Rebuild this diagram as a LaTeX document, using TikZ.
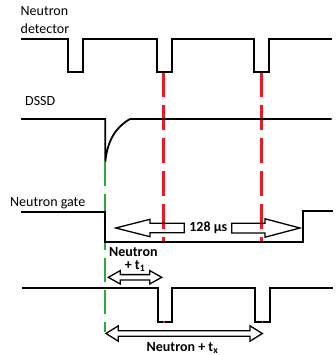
\documentclass[tikz,border=0pt]{standalone}
\usepackage{fontspec}
\setmainfont{Carlito}
\definecolor{mkred}{RGB}{235,25,35}
\definecolor{mkgreen}{RGB}{40,170,60}
\begin{document}
\begin{tikzpicture}[x=1pt,y=-1pt,
  sig/.style={line width=1.8pt, line join=miter},
  reddash/.style={draw=mkred, line width=2.3pt, dash pattern=on 25pt off 8pt},
  greendash/.style={draw=mkgreen, line width=1.5pt, dash pattern=on 24pt off 8pt},
  blockarrow/.style={draw=black, line width=1.3pt, line join=miter, fill=none},
  lbl/.style={inner sep=0pt, anchor=base west, font=\fontsize{14}{16}\selectfont},
  blbl/.style={inner sep=0pt, anchor=base, font=\fontsize{14}{16}\selectfont\bfseries}]
\useasboundingbox (0,0) rectangle (336,355);
\fill[white] (0,0) rectangle (336,355);

% labels
\node[lbl] (nd1) at (20.5,16) {Neutron};
\node[lbl] (nd2) at (20.5,33.3) {detector};
\node[lbl] (dssd) at (25,106) {DSSD};
\node[lbl] (ngate) at (10,206) {Neutron gate};

% dashed markers
\draw[reddash] (163.5,71.7) -- (163.5,241.7);
\draw[reddash] (261.5,71.7) -- (261.5,241.7);
\draw[greendash] (105,161.7) -- (105,332);

% neutron detector signal
\draw[sig] (21,39) -- (68.3,39) -- (68.3,71.7) -- (82.7,71.7) -- (82.7,39)
  -- (157,39) -- (157,71.7) -- (172,71.7) -- (172,39)
  -- (254.3,39) -- (254.3,71.7) -- (269.3,71.7) -- (269.3,39) -- (331.7,39);

% DSSD signal
\draw[sig] (21,119) -- (105.3,119) -- (105.3,161.7)
  .. controls (107.5,140) and (116,127) .. (130,119) -- (331.7,119);

% neutron gate signal
\draw[sig] (21,211.7) -- (104.7,211.7) -- (104.7,241.7) -- (303.3,241.7)
  -- (303.3,211.2) -- (333,211.2);

% lower signal
\draw[sig] (21.5,287.7) -- (157.7,287.7) -- (157.7,321.7) -- (172.3,321.7) -- (172.3,287.7)
  -- (255.3,287.7) -- (255.3,321.7) -- (270,321.7) -- (270,287.7) -- (333,287.7);
\draw[mkred, line width=1.8pt] (164,320.6) -- (164,322.6);
\draw[mkred, line width=1.8pt] (262.5,320.6) -- (262.5,322.6);

% 128 us arrows
\draw[blockarrow] (115.7,228) -- (150,219.3) -- (150,223.2) -- (184.3,223.2)
  -- (184.3,232.8) -- (150,232.8) -- (150,236.7) -- cycle;
\draw[blockarrow] (300,228) -- (265,218.8) -- (265,223.2) -- (231.7,223.2)
  -- (231.7,233) -- (265,233) -- (265,237.2) -- cycle;
\node[blbl] (t128) at (208.3,231.7) {128 µs};

% t1 arrow
\draw[blockarrow] (108.3,277.3) -- (120.3,270.6) -- (120.3,274.6) -- (149.7,274.6)
  -- (149.7,270.6) -- (161.7,277.3) -- (149.7,284) -- (149.7,280) -- (120.3,280)
  -- (120.3,284) -- cycle;
\node[blbl] (n1) at (133.3,256.2) {Neutron};
\node[blbl] (t1) at (135,269.3) {+ t\textsubscript{1}};

% tx arrow
\draw[blockarrow] (106,333.5) -- (118.3,325.8) -- (118.3,330.7) -- (250,330.7)
  -- (250,325.8) -- (262.3,333.5) -- (250,341.2) -- (250,336.3) -- (118.3,336.3)
  -- (118.3,341.2) -- cycle;
\node[blbl] (tx) at (182.5,351.7) {Neutron + t\textsubscript{x}};
\end{tikzpicture}
\end{document}
